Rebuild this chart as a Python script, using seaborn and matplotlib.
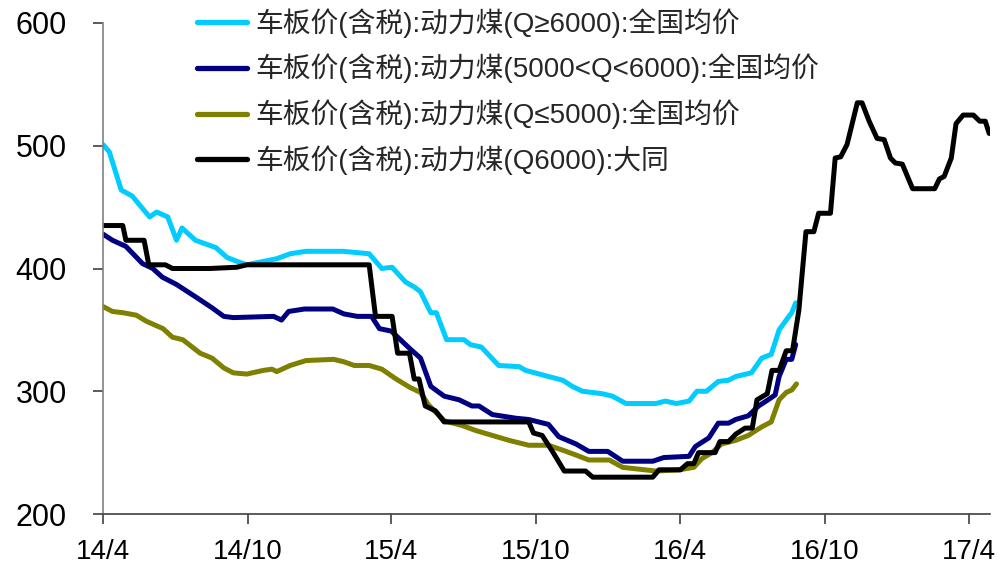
import matplotlib
matplotlib.use("Agg")
import matplotlib.pyplot as plt
import matplotlib.dates as mdates
from matplotlib.ticker import FuncFormatter
import pandas as pd
import seaborn as sns

# Series labels (legend order) and line colours
labels = [
    "车板价(含税):动力煤(Q≥6000):全国均价",
    "车板价(含税):动力煤(5000<Q<6000):全国均价",
    "车板价(含税):动力煤(Q≤5000):全国均价",
    "车板价(含税):动力煤(Q6000):大同",
]
colors = ["#00CCFF", "#000080", "#808000", "#000000"]

# Q>=6000 national average
q6000_dates = [
    "2014-04-01", "2014-04-09", "2014-04-24", "2014-05-08", "2014-05-30", "2014-06-08",
    "2014-06-22", "2014-07-03", "2014-07-10", "2014-07-27", "2014-08-22", "2014-09-05",
    "2014-09-17", "2014-09-30", "2014-11-07", "2014-11-24", "2014-12-14", "2015-01-30",
    "2015-03-04", "2015-03-20", "2015-04-02", "2015-04-19", "2015-04-30", "2015-05-08",
    "2015-05-21", "2015-05-28", "2015-06-10", "2015-07-02", "2015-07-10", "2015-07-24",
    "2015-08-15", "2015-09-10", "2015-09-18", "2015-10-17", "2015-11-04", "2015-11-16",
    "2015-11-29", "2015-12-24", "2016-01-06", "2016-01-23", "2016-03-01", "2016-03-13",
    "2016-03-27", "2016-04-12", "2016-04-22", "2016-05-04", "2016-05-19", "2016-06-01",
    "2016-06-10", "2016-06-30", "2016-07-13", "2016-07-25", "2016-08-04", "2016-08-13",
    "2016-08-20", "2016-08-25",
]
q6000_values = [
    501, 495, 464, 459, 442, 446,
    442, 423, 433, 423, 417, 409,
    406, 403, 408, 412, 414, 414,
    412, 400, 401, 389, 385, 381,
    364, 364, 342, 342, 338, 336,
    321, 320, 317, 312, 309, 304,
    300, 298, 296, 290, 290, 292,
    290, 292, 300, 300, 308, 309,
    312, 315, 327, 330, 350, 358,
    364, 372,
]

# 5000<Q<6000 national average
q5000_6000_dates = [
    "2014-04-01", "2014-04-13", "2014-04-30", "2014-05-21", "2014-06-03", "2014-06-15",
    "2014-07-03", "2014-07-27", "2014-08-17", "2014-09-01", "2014-09-13", "2014-11-03",
    "2014-11-13", "2014-11-22", "2014-12-12", "2015-01-17", "2015-01-31", "2015-02-17",
    "2015-03-07", "2015-03-17", "2015-04-01", "2015-04-24", "2015-05-08", "2015-05-21",
    "2015-06-07", "2015-06-26", "2015-07-12", "2015-07-21", "2015-08-07", "2015-09-06",
    "2015-09-22", "2015-10-17", "2015-10-30", "2015-11-21", "2015-12-07", "2015-12-31",
    "2016-01-19", "2016-02-26", "2016-03-11", "2016-04-12", "2016-04-20", "2016-05-07",
    "2016-05-19", "2016-06-01", "2016-06-10", "2016-06-26", "2016-07-09", "2016-07-21",
    "2016-07-30", "2016-08-04", "2016-08-13", "2016-08-20", "2016-08-25",
]
q5000_6000_values = [
    428, 423, 418, 404, 400, 393,
    387, 377, 368, 361, 360, 361,
    358, 365, 367, 367, 363, 361,
    361, 351, 349, 335, 327, 304,
    296, 293, 288, 288, 281, 278,
    277, 273, 263, 257, 251, 251,
    243, 243, 246, 247, 255, 262,
    274, 274, 277, 280, 288, 293,
    297, 312, 326, 326, 338,
]

# Q<=5000 national average
q5000_dates = [
    "2014-04-01", "2014-04-13", "2014-04-26", "2014-05-13", "2014-05-26", "2014-06-16",
    "2014-06-28", "2014-07-11", "2014-08-02", "2014-08-17", "2014-09-01", "2014-09-13",
    "2014-09-30", "2014-10-21", "2014-11-01", "2014-11-07", "2014-11-24", "2014-12-14",
    "2015-01-18", "2015-01-31", "2015-02-13", "2015-03-04", "2015-03-20", "2015-04-07",
    "2015-04-25", "2015-05-08", "2015-05-18", "2015-06-07", "2015-06-30", "2015-07-17",
    "2015-08-07", "2015-08-28", "2015-09-22", "2015-10-17", "2015-11-04", "2015-11-21",
    "2015-12-07", "2016-01-02", "2016-01-19", "2016-03-01", "2016-03-31", "2016-04-18",
    "2016-04-28", "2016-05-11", "2016-05-23", "2016-06-10", "2016-06-26", "2016-07-13",
    "2016-07-25", "2016-08-04", "2016-08-13", "2016-08-20", "2016-08-26",
]
q5000_values = [
    369, 365, 364, 362, 357, 351,
    344, 342, 331, 327, 319, 315,
    314, 317, 318, 316, 321, 325,
    326, 324, 321, 321, 318, 310,
    303, 299, 289, 276, 272, 268,
    264, 260, 256, 256, 252, 248,
    244, 244, 238, 235, 236, 238,
    245, 250, 257, 260, 264, 271,
    275, 293, 299, 301, 306,
]

# Q6000 Datong
datong_dates = [
    "2014-04-01", "2014-04-26", "2014-04-30", "2014-05-23", "2014-05-29", "2014-06-19",
    "2014-06-28", "2014-08-14", "2014-09-17", "2014-09-30", "2015-03-04", "2015-03-12",
    "2015-04-02", "2015-04-09", "2015-04-24", "2015-04-30", "2015-05-06", "2015-05-14",
    "2015-05-27", "2015-06-07", "2015-09-22", "2015-09-28", "2015-10-09", "2015-10-22",
    "2015-11-06", "2015-12-03", "2015-12-12", "2016-02-26", "2016-03-05", "2016-04-01",
    "2016-04-10", "2016-04-18", "2016-04-24", "2016-05-15", "2016-05-21", "2016-06-01",
    "2016-06-10", "2016-06-22", "2016-07-01", "2016-07-07", "2016-07-20", "2016-07-26",
    "2016-08-04", "2016-08-13", "2016-08-21", "2016-08-29", "2016-09-07", "2016-09-17",
    "2016-09-23", "2016-10-08", "2016-10-14", "2016-10-21", "2016-10-29", "2016-11-11",
    "2016-11-17", "2016-11-26", "2016-12-06", "2016-12-15", "2016-12-23", "2016-12-29",
    "2017-01-07", "2017-01-20", "2017-02-17", "2017-02-23", "2017-03-01", "2017-03-10",
    "2017-03-16", "2017-03-25", "2017-04-07", "2017-04-15", "2017-04-22", "2017-04-27",
]
datong_values = [
    435, 435, 423, 423, 403, 403,
    400, 400, 401, 403, 403, 361,
    361, 331, 331, 310, 310, 288,
    284, 275, 275, 266, 264, 251,
    235, 235, 230, 230, 236, 236,
    241, 241, 250, 250, 259, 259,
    265, 270, 270, 293, 298, 317,
    317, 333, 333, 366, 430, 430,
    445, 445, 490, 491, 501, 535,
    535, 520, 506, 505, 490, 486,
    485, 465, 465, 473, 475, 490,
    518, 525, 525, 520, 520, 510,
]

y_ticks = [200, 300, 400, 500, 600]

frames = []
for lab, d, v in zip(
    labels,
    [q6000_dates, q5000_6000_dates, q5000_dates, datong_dates],
    [q6000_values, q5000_6000_values, q5000_values, datong_values],
):
    frames.append(pd.DataFrame({"date": pd.to_datetime(d), "price": v, "series": lab}))
df = pd.concat(frames, ignore_index=True)

sns.set_theme(style="white")
plt.rcParams["font.family"] = ["Liberation Sans", "Noto Sans CJK SC", "DejaVu Sans"]

fig = plt.figure(figsize=(10.03, 5.64), dpi=100)
ax = fig.add_axes([103 / 1003, 1 - 514 / 564, (990 - 103) / 1003, (514 - 23) / 564])

sns.lineplot(
    data=df, x="date", y="price", hue="series", hue_order=labels,
    palette=colors, linewidth=3.6, ax=ax, estimator=None, sort=False,
)

ax.set_xlim(pd.Timestamp("2014-04-01"), pd.Timestamp("2017-04-28"))
ax.set_ylim(200, 600)
ax.set_yticks(y_ticks)
ax.set_xlabel("")
ax.set_ylabel("")

ax.xaxis.set_major_locator(mdates.MonthLocator(bymonth=[4, 10]))
ax.xaxis.set_major_formatter(
    FuncFormatter(lambda x, pos: f"{mdates.num2date(x).year % 100}/{mdates.num2date(x).month}")
)

for side in ["top", "right"]:
    ax.spines[side].set_visible(False)
ax.spines["left"].set_color("#808080")
ax.spines["left"].set_linewidth(1.2)
ax.spines["bottom"].set_color("#404040")
ax.spines["bottom"].set_linewidth(1.2)

ax.tick_params(axis="y", which="major", left=True, length=7, width=1.2,
               color="#404040", pad=19, labelsize=22, labelcolor="black")
ax.tick_params(axis="x", which="major", bottom=True, length=7, width=1.2,
               color="#404040", pad=11, labelsize=20, labelcolor="black")

handles, labs = ax.get_legend_handles_labels()
leg = ax.legend(
    handles, labs, loc="upper left",
    bbox_to_anchor=(197 / 1003, 1 - 8 / 564), bbox_transform=fig.transFigure,
    frameon=False, fontsize=20, handlelength=1.8, handletextpad=0.3,
    labelspacing=0.58, borderpad=0, borderaxespad=0,
)
for line in leg.get_lines():
    line.set_linewidth(3.8)

fig.savefig("out.png", dpi=100)
